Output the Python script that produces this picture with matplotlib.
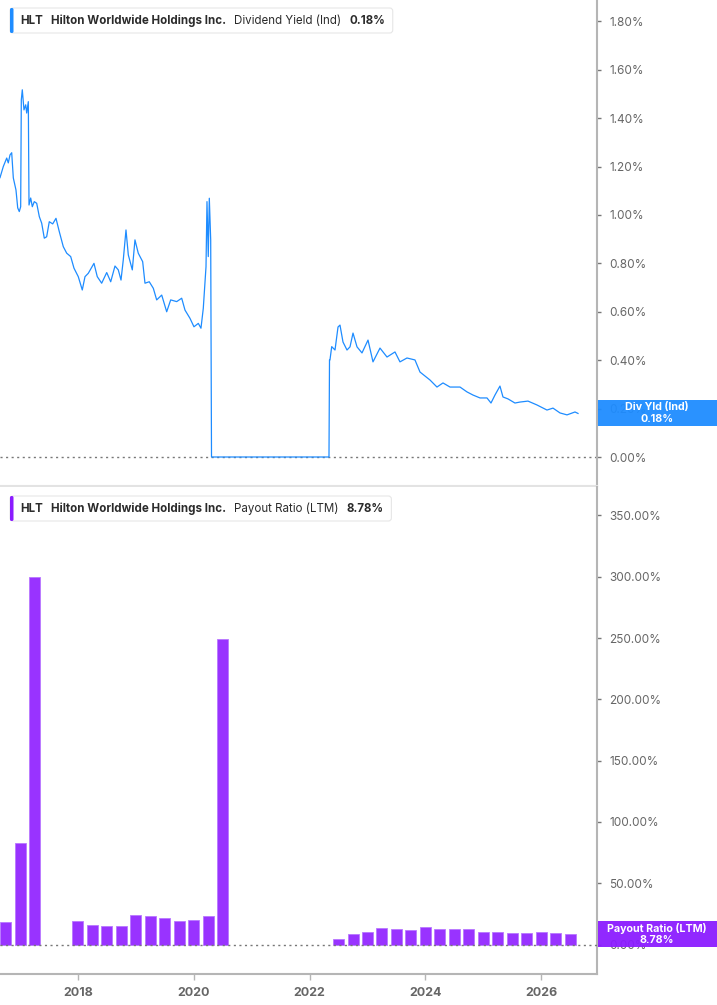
import matplotlib
matplotlib.use("Agg")
import matplotlib.pyplot as plt
from matplotlib.patches import FancyBboxPatch, Rectangle
from matplotlib.transforms import IdentityTransform

plt.rcParams['font.family'] = ['Inter', 'DejaVu Sans']

# ---------------- data ----------------
yield_dates = [
    2016.653, 2016.710, 2016.769, 2016.796, 2016.826, 2016.855, 2016.883, 2016.929,
    2016.959, 2016.986, 2017.010, 2017.021, 2017.038, 2017.067, 2017.097, 2017.114,
    2017.142, 2017.154, 2017.183, 2017.211, 2017.245, 2017.287, 2017.332, 2017.373,
    2017.418, 2017.459, 2017.504, 2017.563, 2017.620, 2017.677, 2017.746, 2017.805,
    2017.874, 2017.931, 2018.005, 2018.074, 2018.121, 2018.178, 2018.276, 2018.333,
    2018.409, 2018.496, 2018.565, 2018.639, 2018.696, 2018.743, 2018.782, 2018.829,
    2018.869, 2018.938, 2018.984, 2019.041, 2019.117, 2019.157, 2019.231, 2019.301,
    2019.359, 2019.446, 2019.532, 2019.601, 2019.705, 2019.791, 2019.848, 2019.934,
    2020.003, 2020.078, 2020.124, 2020.164, 2020.211, 2020.228, 2020.250, 2020.268,
    2020.292, 2020.306, 2022.335, 2022.344,
    2022.352, 2022.382, 2022.439, 2022.491, 2022.525, 2022.577, 2022.646, 2022.698,
    2022.750, 2022.819, 2022.905, 2023.009, 2023.095, 2023.216, 2023.337, 2023.475,
    2023.561, 2023.682, 2023.820, 2023.907, 2024.080, 2024.200, 2024.304, 2024.425,
    2024.598, 2024.718, 2024.822, 2024.943, 2025.064, 2025.133, 2025.202, 2025.288,
    2025.340, 2025.427, 2025.547, 2025.634, 2025.772, 2025.927, 2026.100, 2026.204,
    2026.325, 2026.446, 2026.584, 2026.636,
]
yield_values = [
    1.154, 1.200, 1.235, 1.215, 1.248, 1.257, 1.153, 1.103,
    1.029, 1.014, 1.034, 1.475, 1.517, 1.434, 1.455, 1.421,
    1.468, 1.041, 1.070, 1.034, 1.055, 1.048, 0.993, 0.966,
    0.904, 0.910, 0.972, 0.963, 0.986, 0.931, 0.869, 0.842,
    0.828, 0.780, 0.745, 0.690, 0.745, 0.759, 0.800, 0.745,
    0.718, 0.762, 0.724, 0.789, 0.773, 0.731, 0.814, 0.938,
    0.835, 0.773, 0.897, 0.842, 0.807, 0.718, 0.724, 0.697,
    0.649, 0.669, 0.600, 0.649, 0.642, 0.656, 0.607, 0.573,
    0.538, 0.552, 0.532, 0.614, 0.786, 1.055, 0.828, 1.069,
    0.897, 0.000, 0.000, 0.401,
    0.401, 0.456, 0.442, 0.537, 0.545, 0.475, 0.442, 0.455,
    0.512, 0.455, 0.430, 0.483, 0.393, 0.450, 0.413, 0.434,
    0.393, 0.409, 0.401, 0.351, 0.318, 0.289, 0.306, 0.289,
    0.289, 0.269, 0.256, 0.244, 0.244, 0.223, 0.256, 0.293,
    0.248, 0.240, 0.223, 0.227, 0.231, 0.215, 0.194, 0.202,
    0.182, 0.174, 0.186, 0.180,
]

payout_dates = [
    2016.75, 2017.00, 2017.25,
    2018.00, 2018.25, 2018.50, 2018.75, 2019.00, 2019.25, 2019.50, 2019.75,
    2020.00, 2020.25, 2020.50,
    2022.50, 2022.75, 2023.00, 2023.25, 2023.50, 2023.75, 2024.00, 2024.25,
    2024.50, 2024.75, 2025.00, 2025.25, 2025.50, 2025.75, 2026.00, 2026.25, 2026.50,
]
payout_values = [
    18.2, 82.4, 299.5,
    18.8, 16.3, 15.2, 14.7, 24.2, 23.4, 22.0, 18.8,
    19.6, 23.1, 249.0,
    4.3, 8.2, 10.3, 13.3, 12.8, 12.2, 13.9, 13.0,
    12.8, 12.8, 9.8, 9.8, 9.5, 9.0, 10.3, 9.5, 8.78,
]

yield_ticks = [0.0, 0.2, 0.4, 0.6, 0.8, 1.0, 1.2, 1.4, 1.6, 1.8]
payout_ticks = [0, 50, 100, 150, 200, 250, 300, 350]
year_ticks = [2018, 2020, 2022, 2024, 2026]

ticker = "HLT"
company = "Hilton Worldwide Holdings Inc."
yield_name = "Dividend Yield (Ind)"
payout_name = "Payout Ratio (LTM)"
yield_last = "0.18%"
payout_last = "8.78%"
yield_tag = "Div Yld (Ind)"

# ---------------- styling ----------------
W, H = 717, 1005
BLUE = '#1e8cff'
PURPLE = '#9933ff'
TAG_PURPLE = '#8b1cff'
AXIS_GRAY = '#b5b5b5'
LABEL_GRAY = '#666666'

fig = plt.figure(figsize=(W / 100, H / 100), dpi=100)
fig.patch.set_facecolor('white')

axr = 597 / W
ax1 = fig.add_axes([0, 1 - 486 / H, axr, 486 / H])
ax2 = fig.add_axes([0, 1 - 974 / H, axr, 487 / H])

xlim = (2016.653, 2026.964)

# ---- top panel: dividend yield ----
ax1.plot(yield_dates, yield_values, color=BLUE, lw=0.9, solid_joinstyle='round')
ax1.axhline(0, color='#777777', lw=1.0, ls=(0, (1.5, 2.5)), zorder=1)
ax1.set_xlim(*xlim)
ax1.set_ylim(-0.1198, 1.888)
ax1.yaxis.tick_right()
ax1.set_yticks(yield_ticks)
ax1.set_yticklabels([f"{v:.2f}%" for v in yield_ticks])
ax1.set_xticks([])
for s in ['left', 'top']:
    ax1.spines[s].set_visible(False)
ax1.spines['right'].set_color(AXIS_GRAY)
ax1.spines['right'].set_linewidth(1.5)
ax1.spines['bottom'].set_color('#e3e3e3')
ax1.spines['bottom'].set_linewidth(1.5)

# ---- bottom panel: payout ratio ----
ax2.bar(payout_dates, payout_values, width=0.19, color=PURPLE,
        edgecolor='#b877ff', linewidth=0.6, zorder=2)
ax2.axhline(0, color='#777777', lw=1.0, ls=(0, (1.5, 2.5)), zorder=3)
ax2.set_xlim(*xlim)
ax2.set_ylim(-24.06, 373.2)
ax2.yaxis.tick_right()
ax2.set_yticks(payout_ticks)
ax2.set_yticklabels([f"{v:.2f}%" for v in payout_ticks])
ax2.set_xticks(year_ticks)
ax2.set_xticklabels([str(y) for y in year_ticks])
for s in ['left', 'top']:
    ax2.spines[s].set_visible(False)
for s in ['right', 'bottom']:
    ax2.spines[s].set_color(AXIS_GRAY)
    ax2.spines[s].set_linewidth(1.5)

for ax in (ax1, ax2):
    ax.set_facecolor('white')
    ax.tick_params(axis='y', direction='out', length=3, width=1, color='#777777',
                   labelcolor=LABEL_GRAY, labelsize=8.5, pad=6)
ax2.tick_params(axis='x', direction='out', length=4, width=1, color=AXIS_GRAY,
                labelcolor=LABEL_GRAY, labelsize=9, pad=5)
for lab in ax2.get_xticklabels():
    lab.set_fontweight('bold')

# ---- last-value tags on the right ----
def tag(y_top, y_bot, color, line1, line2):
    fig.patches.append(Rectangle((598 / W, 1 - y_bot / H), (W - 598) / W, (y_bot - y_top) / H,
                                 transform=fig.transFigure, facecolor=color,
                                 edgecolor='none', alpha=0.95, zorder=10))
    cx = 657 / W
    fig.text(cx, 1 - (y_top + 7.5) / H, line1, color='white', fontsize=7.7,
             fontweight='bold', ha='center', va='center', zorder=11)
    fig.text(cx, 1 - (y_top + 19.0) / H, line2, color='white', fontsize=7.7,
             fontweight='bold', ha='center', va='center', zorder=11)

tag(399.5, 425.5, BLUE, yield_tag, yield_last)
tag(921, 947, TAG_PURPLE, payout_name, payout_last)

# ---- legend boxes ----
renderer = fig.canvas.get_renderer()

def legend(y_center, color, items):
    x = 20
    gap = 8
    for txt, weight in items:
        t = fig.text(x, H - y_center, txt, transform=IdentityTransform(),
                     fontsize=8.3, fontweight=weight, color='#2b2b2b',
                     ha='left', va='center', zorder=21)
        bb = t.get_window_extent(renderer)
        x = bb.x1 + gap
    right = x
    box_h = 25
    box = FancyBboxPatch((10, H - y_center - box_h / 2), right - 10, box_h,
                         boxstyle='round,pad=0,rounding_size=3',
                         transform=IdentityTransform(), facecolor='white',
                         edgecolor='#e6e6e6', linewidth=0.8, zorder=19)
    fig.patches.append(box)
    strip = FancyBboxPatch((10, H - y_center - box_h / 2), 3.5, box_h,
                           boxstyle='round,pad=0,rounding_size=1.5',
                           transform=IdentityTransform(), facecolor=color,
                           edgecolor='none', zorder=20)
    fig.patches.append(strip)

legend(20.5, BLUE, [(ticker, 'bold'), (company, 'bold'),
                    (yield_name, 'normal'), (yield_last, 'bold')])
legend(508.5, TAG_PURPLE, [(ticker, 'bold'), (company, 'bold'),
                           (payout_name, 'normal'), (payout_last, 'bold')])

fig.savefig('out.png', dpi=100, facecolor='white')
